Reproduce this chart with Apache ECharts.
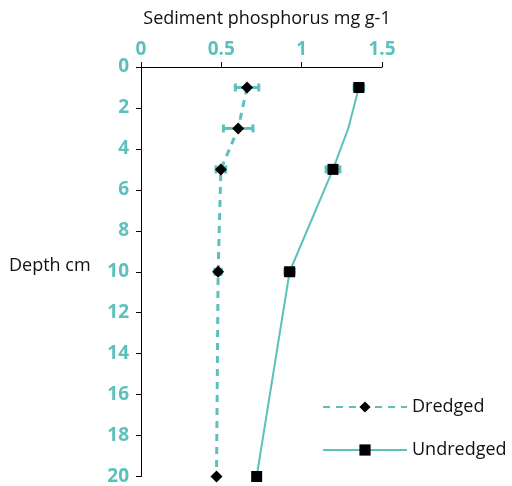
<!DOCTYPE html>
<html><head><meta charset="utf-8">
<script src="https://cdn.jsdelivr.net/npm/echarts@6/dist/echarts.min.js"></script>
<style>html,body{margin:0;padding:0;background:#fff}#c{width:512px;height:486px}</style>
</head><body><div id="c"></div>
<script>
var depths = [1, 3, 5, 10, 20];
var dredged = [0.66, 0.605, 0.497, 0.48, 0.47];
var dredgedErr = [0.073, 0.092, 0.03, 0.02, 0];
var undredgedDepths = [1, 3, 5, 10, 20];
var undredged = [1.356, 1.29, 1.195, 0.925, 0.72];
var undredgedErr = [0.03, 0, 0.043, 0.03, 0];
var undredgedMarked = [true, false, true, true, true];
var xTicks = [0, 0.5, 1, 1.5];
var teal = '#5cc1bd';
var font = 'Open Sans';

function errData(vals, errs, ds) {
  var out = [];
  for (var i = 0; i < vals.length; i++) if (errs[i] > 0) out.push([vals[i] - errs[i], vals[i] + errs[i], ds[i]]);
  return out;
}
function renderErr(params, api) {
  var a = api.coord([api.value(0), api.value(2)]);
  var b = api.coord([api.value(1), api.value(2)]);
  var h = 4;
  var st = {stroke: teal, lineWidth: 3};
  return {type: 'group', children: [
    {type: 'line', shape: {x1: a[0], y1: a[1], x2: b[0], y2: b[1]}, style: st},
    {type: 'line', shape: {x1: a[0], y1: a[1] - h, x2: a[0], y2: a[1] + h}, style: st},
    {type: 'line', shape: {x1: b[0], y1: b[1] - h, x2: b[0], y2: b[1] + h}, style: st}
  ]};
}
var chart = echarts.init(document.getElementById('c'));
chart.setOption({
  animation: false,
  textStyle: {fontFamily: font},
  title: {text: 'Sediment phosphorus mg g-1', left: 262, textAlign: 'center', top: 5,
    textStyle: {fontFamily: font, fontWeight: 'normal', fontSize: 18, color: '#111'}},
  graphic: [{type: 'text', left: 9, top: 257, style: {text: 'Depth cm', fontFamily: font, fontSize: 18, fill: '#111'}}],
  legend: {
    orient: 'vertical', left: 317, top: 393, itemWidth: 84, itemHeight: 14, itemGap: 25,
    textStyle: {fontFamily: font, fontSize: 18, color: '#111', padding: [0, 0, 10, 0]},
    data: ['Dredged', 'Undredged']
  },
  grid: {left: 141, right: 130, top: 67, bottom: 9},
  xAxis: {
    type: 'value', position: 'top', min: 0, max: 1.5, interval: 0.5,
    axisLine: {show: true, lineStyle: {color: '#000', width: 1}},
    axisTick: {show: true, length: 5, lineStyle: {color: '#000'}},
    splitLine: {show: false},
    axisLabel: {color: teal, fontSize: 19, fontWeight: 'bold', margin: 8, fontFamily: font,
      formatter: function (v) { return xTicks.indexOf(v) >= 0 ? String(v) : ''; }}
  },
  yAxis: {
    type: 'value', inverse: true, min: 0, max: 20, interval: 2,
    axisLine: {show: true, lineStyle: {color: '#000', width: 1}},
    axisTick: {show: true, length: 5, lineStyle: {color: '#000'}},
    splitLine: {show: false},
    axisLabel: {color: teal, fontSize: 19, fontWeight: 'bold', margin: 12, fontFamily: font}
  },
  series: [
    {type: 'custom', renderItem: renderErr, data: errData(dredged, dredgedErr, depths), z: 1, silent: true},
    {type: 'custom', renderItem: renderErr, data: errData(undredged, undredgedErr, undredgedDepths), z: 1, silent: true},
    {name: 'Dredged', type: 'line', data: dredged.map(function (v, i) { return [v, depths[i]]; }),
      symbol: 'diamond', symbolSize: 12, itemStyle: {color: '#000'},
      lineStyle: {color: teal, width: 3, type: [7, 6]}, z: 3},
    {name: 'Undredged', type: 'line',
      data: undredged.map(function (v, i) {
        var d = {value: [v, undredgedDepths[i]]};
        if (!undredgedMarked[i]) d.symbol = 'none';
        return d;
      }),
      symbol: 'rect', symbolSize: 11, itemStyle: {color: '#000'},
      lineStyle: {color: teal, width: 2}, z: 3}
  ]
});
</script></body></html>
